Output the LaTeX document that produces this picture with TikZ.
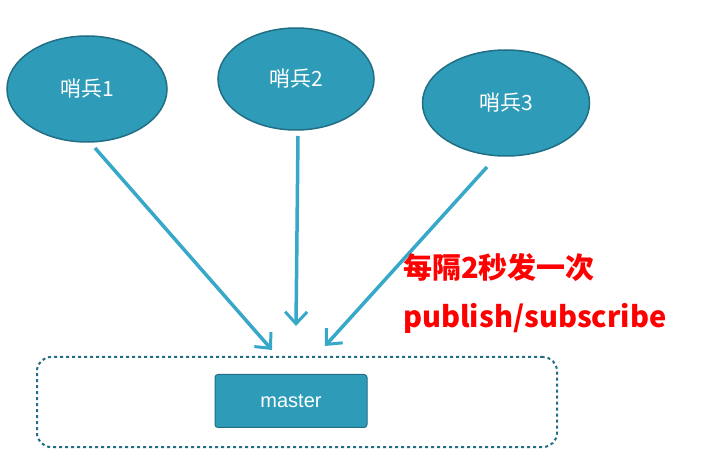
\documentclass[tikz,border=0pt]{standalone}
\usepackage{fontspec}
\setmainfont{Liberation Sans}
\newfontfamily\cjk{Noto Sans CJK SC}
\usetikzlibrary{shapes.geometric,arrows.meta}
\definecolor{teal1}{HTML}{2E9CB8}
\definecolor{tealdk}{HTML}{226E84}
\definecolor{arr}{HTML}{38A8C8}
\tikzset{
  sentinel/.style={ellipse,fill=teal1,draw=tealdk,line width=1.5pt,text=white,font=\cjk\fontsize{21}{24}\selectfont,inner sep=0pt},
  conn/.style={arr,line width=3.5pt,-{Straight Barb[length=12pt,width=22pt,line width=3pt]}},
  redtxt/.style={text=red,font=\cjk\bfseries\fontsize{29}{32}\selectfont,anchor=west,inner sep=0pt}
}
\begin{document}
\begin{tikzpicture}[x=1pt,y=-1pt]
\useasboundingbox[fill=white] (0,0) rectangle (702,462);
\node[sentinel,minimum width=160pt,minimum height=106pt] (s1) at (87,89) {哨兵1};
\node[sentinel,minimum width=156pt,minimum height=102pt] (s2) at (296,79) {哨兵2};
\node[sentinel,minimum width=167pt,minimum height=106pt] (s3) at (506,103) {哨兵3};
\node[draw=tealdk,dashed,line width=2pt,rounded corners=14pt,minimum width=520pt,minimum height=90pt] (grp) at (297,402) {};
\node[fill=teal1,draw=tealdk,line width=1pt,rounded corners=3pt,minimum width=152pt,minimum height=53pt,text=white,font=\fontsize{20}{24}\selectfont] (m) at (291,401) {master};
\coordinate (e1) at (95,148); \coordinate (t1) at (272,350);
\coordinate (e2) at (298,136); \coordinate (t2) at (296,326);
\coordinate (e3) at (487,167); \coordinate (t3) at (325,346);
\draw[conn] (e1) -- (t1);
\draw[conn] (e2) -- (t2);
\draw[conn] (e3) -- (t3);
\node[redtxt] (r1) at (403,268) {每隔2秒发一次};
\node[redtxt] (r2) at (403,318) {publish/subscribe};
\end{tikzpicture}
\end{document}
